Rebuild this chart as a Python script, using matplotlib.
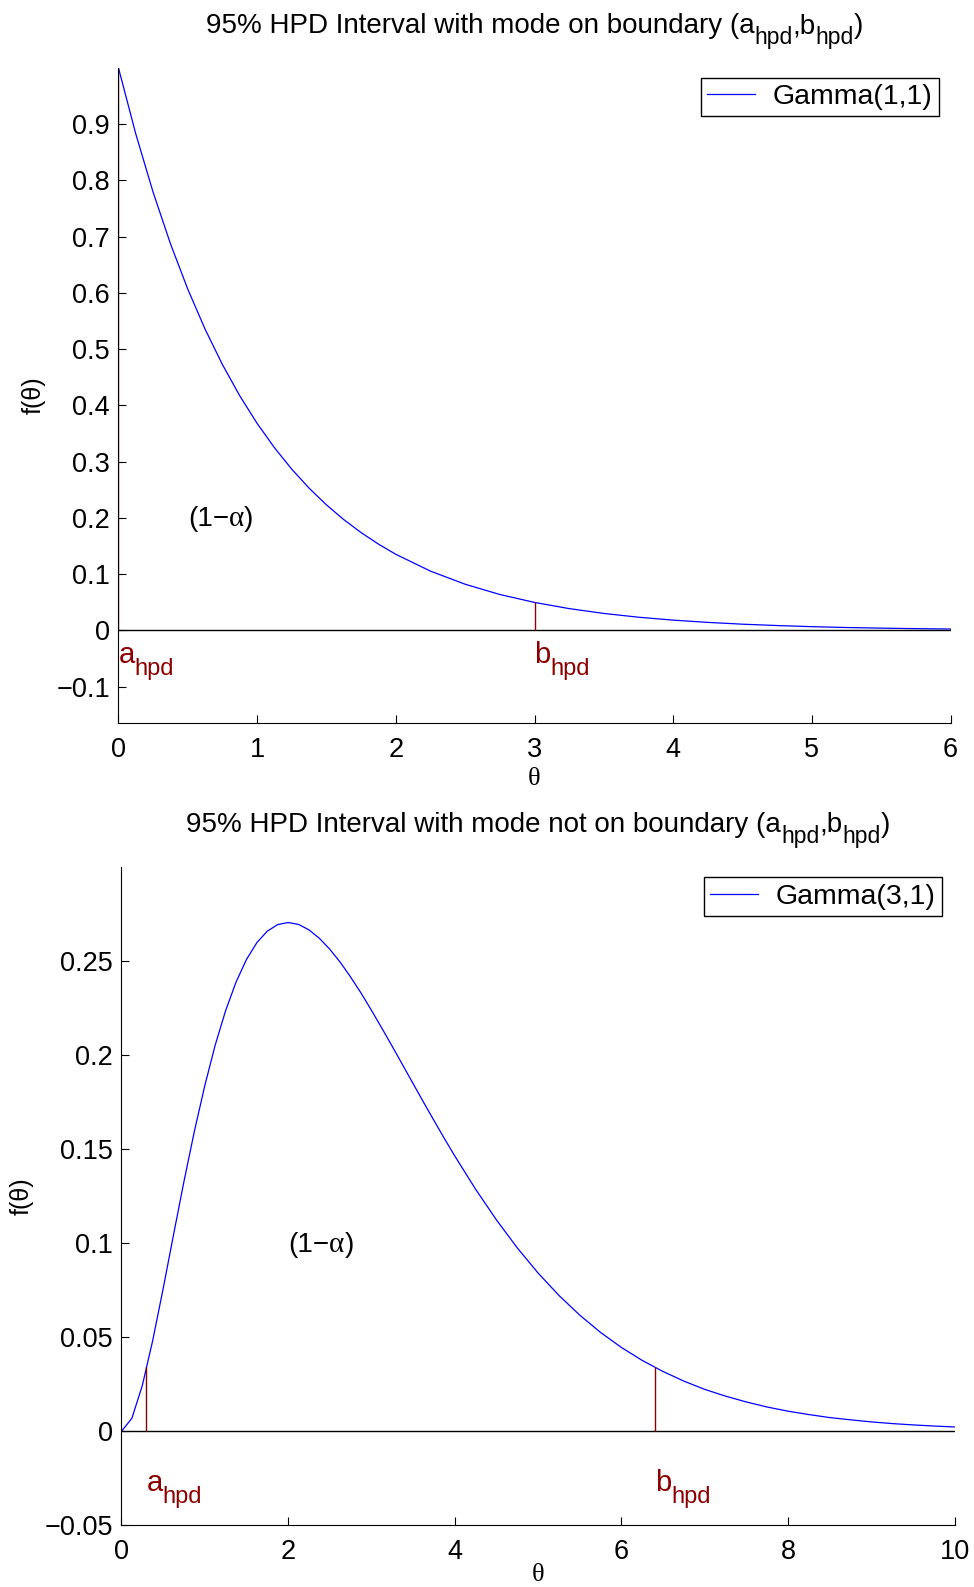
import numpy as np
import matplotlib
matplotlib.use('Agg')
from matplotlib import pyplot as plt
from matplotlib import transforms as mtransforms

# Gamma(1,1) density
x1 = [0, 0.125, 0.25, 0.375, 0.5, 0.625, 0.75, 0.875, 1, 1.125, 1.25, 1.375, 1.5,
      1.625, 1.75, 1.875, 2, 2.25, 2.5, 2.75, 3, 3.25, 3.5, 3.75, 4, 4.25, 4.5,
      4.75, 5, 5.25, 5.5, 5.75, 6]
y1 = [1.000, 0.8825, 0.7788, 0.6873, 0.6065, 0.5353, 0.4724, 0.4169, 0.3679,
      0.3247, 0.2865, 0.2528, 0.2231, 0.1969, 0.1738, 0.1534, 0.1353, 0.1054,
      0.0821, 0.0639, 0.0498, 0.0388, 0.0302, 0.0235, 0.0183, 0.0143, 0.0111,
      0.0087, 0.0067, 0.0052, 0.0041, 0.0032, 0.0025]

# Gamma(3,1) density
x2 = [0, 0.125, 0.25, 0.375, 0.5, 0.625, 0.75, 0.875, 1, 1.125, 1.25, 1.375, 1.5,
      1.625, 1.75, 1.875, 2, 2.125, 2.25, 2.375, 2.5, 2.625, 2.75, 2.875, 3,
      3.125, 3.25, 3.375, 3.5, 3.625, 3.75, 3.875, 4, 4.25, 4.5, 4.75, 5, 5.25,
      5.5, 5.75, 6, 6.25, 6.5, 6.75, 7, 7.25, 7.5, 7.75, 8, 8.25, 8.5, 8.75, 9,
      9.25, 9.5, 9.75, 10]
y2 = [0, 0.0069, 0.0243, 0.0483, 0.0758, 0.1046, 0.1329, 0.1596, 0.1839, 0.2055,
      0.2238, 0.2390, 0.2510, 0.2600, 0.2661, 0.2696, 0.2707, 0.2697, 0.2668,
      0.2623, 0.2565, 0.2496, 0.2417, 0.2332, 0.2240, 0.2145, 0.2048, 0.1949,
      0.1850, 0.1751, 0.1654, 0.1558, 0.1465, 0.1288, 0.1125, 0.0976, 0.0842,
      0.0723, 0.0618, 0.0526, 0.0446, 0.0377, 0.0318, 0.0267, 0.0223, 0.0187,
      0.0156, 0.0129, 0.0107, 0.0089, 0.0073, 0.0061, 0.0050, 0.0041, 0.0034,
      0.0028, 0.0023]

# HPD bounds and density height at each bound
hpd1 = [0.0, 3.0]
hpd1_h = [1.0, 0.050]
hpd2 = [0.30, 6.4]
hpd2_h = [0.034, 0.034]

labels = ['Gamma(1,1)', 'Gamma(3,1)']
titles = ['95% HPD Interval with mode on boundary (',
          '95% HPD Interval with mode not on boundary (']

plt.rcParams['font.family'] = ['Liberation Sans', 'DejaVu Sans']
RED = '#8b0000'

fig = plt.figure(figsize=(9.74, 15.87), dpi=100)
renderer = fig.canvas.get_renderer()


def rich_text(base_tf, x, y, parts, ha='left'):
    # parts: (string, fontsize, drop in pixels, family, colour)
    widths = []
    for s, size, dy, fam, col in parts:
        t = fig.text(0, 0, s, fontsize=size, family=fam)
        widths.append(t.get_window_extent(renderer).width)
        t.remove()
    start = -sum(widths) / 2 if ha == 'center' else 0
    for (s, size, dy, fam, col), w in zip(parts, widths):
        tf = mtransforms.offset_copy(base_tf, fig=fig, x=start, y=-dy, units='dots')
        fig.text(x, y, s, transform=tf, fontsize=size, family=fam, color=col,
                 va='baseline', ha='left')
        start += w


SANS = ['Liberation Sans', 'DejaVu Sans']
SERIF = ['Liberation Serif', 'DejaVu Serif']


def panel(rect, x, y, hpd, hpd_h, xlim, ylim, xticks, yticks, lab, title,
          title_y, alpha_pos, lab_y, leg_anchor, xlab_y):
    ax = fig.add_axes(rect)
    ax.plot(x, y, color='blue', lw=0.9, label=lab)
    ax.plot(xlim, [0, 0], color='black', lw=1.0)
    ax.vlines(hpd, 0, hpd_h, color=RED, lw=1.0)
    ax.set_xlim(xlim)
    ax.set_ylim(ylim)
    ax.set_xticks(xticks)
    ax.set_yticks(yticks)
    ax.set_xticklabels([('%g' % t) for t in xticks])
    ax.set_yticklabels([('%g' % t).replace('-', '\u2212') for t in yticks])
    for s in ['top', 'right']:
        ax.spines[s].set_visible(False)
    ax.tick_params(direction='in', length=6, labelsize=19.5)
    ax.tick_params(axis='x', pad=10)
    ax.tick_params(axis='y', pad=6)
    ax.set_xlabel('θ', fontsize=19, family=SERIF)
    ax.xaxis.set_label_coords(0.5, xlab_y)
    ax.set_ylabel('f(θ)', fontsize=18, labelpad=8)

    # title with subscripts
    rich_text(mtransforms.blended_transform_factory(ax.transAxes, fig.transFigure),
              0.5, title_y,
              [(title + 'a', 20, 0, SANS, 'black'), ('hpd', 16.5, 11, SANS, 'black'),
               (',b', 20, 0, SANS, 'black'), ('hpd', 16.5, 11, SANS, 'black'),
               (')', 20, 0, SANS, 'black')], ha='center')

    rich_text(ax.transData, alpha_pos[0], alpha_pos[1],
              [('(1\u2212', 20, 0, SANS, 'black'), ('α', 21, 0, SERIF, 'black'),
               (')', 20, 0, SANS, 'black')])

    for xv, letter in zip(hpd, ['a', 'b']):
        rich_text(ax.transData, xv, lab_y,
                  [(letter, 21, 0, SANS, RED), ('hpd', 17, 12, SANS, RED)])

    leg = ax.legend(loc='upper right', bbox_to_anchor=leg_anchor,
                    bbox_transform=fig.transFigure, fontsize=20.5, fancybox=False,
                    edgecolor='black', framealpha=1, handlelength=1.7,
                    borderpad=0.22, handletextpad=0.6, borderaxespad=0)
    leg.get_frame().set_linewidth(1.0)
    return ax


panel([0.1216, 0.5446, 0.8544, 0.4127], x1, y1, hpd1, hpd1_h, [0, 6],
      [-0.164, 1.0], [0, 1, 2, 3, 4, 5, 6],
      [-0.1, 0, 0.1, 0.2, 0.3, 0.4, 0.5, 0.6, 0.7, 0.8, 0.9],
      labels[0], titles[0], 0.979, (0.5, 0.185), -0.058, (0.9636, 0.9509), -0.069)

panel([0.1247, 0.0389, 0.8555, 0.4145], x2, y2, hpd2, hpd2_h, [0, 10],
      [-0.05, 0.3], [0, 2, 4, 6, 8, 10],
      [-0.05, 0, 0.05, 0.1, 0.15, 0.2, 0.25],
      labels[1], titles[1], 0.4758, (2.0, 0.0955), -0.032, (0.9667, 0.4471), -0.059)

plt.savefig('out.png', dpi=100)
